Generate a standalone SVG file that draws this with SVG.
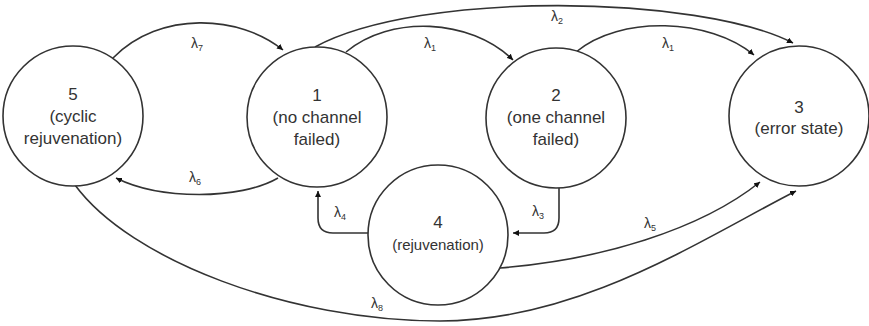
<svg xmlns="http://www.w3.org/2000/svg" width="869" height="326" viewBox="0 0 869 326">
<style>
.node{fill:#fff;stroke:#333;stroke-width:1.6}
.t{font-family:"Liberation Sans",Arial,sans-serif;font-size:17px;fill:#333;text-anchor:middle}
.ts{font-family:"Liberation Sans",Arial,sans-serif;font-size:15px;fill:#333;text-anchor:middle}
.e{fill:none;stroke:#333;stroke-width:1.6;marker-end:url(#ah)}
.l{font-family:"Liberation Sans",Arial,sans-serif;font-size:14px;fill:#333;text-anchor:middle}
.sub{font-size:9px}
</style>
<defs>
<marker id="ah" markerUnits="userSpaceOnUse" markerWidth="7" markerHeight="6" refX="6" refY="3" orient="auto">
<path d="M0,0 L6,3 L0,6 z" fill="#111"/>
</marker>
</defs>
<g id="connectors">
<path class="e" d="M113,58 C160,10 240,15 283,50"/>
<path class="e" d="M278,178 C240,200 160,200 116,178"/>
<path class="e" d="M346,52 C390,15 470,18 513,60"/>
<path class="e" d="M315,47 C420,-10 700,-5 793,43"/>
<path class="e" d="M576,52 C620,15 710,18 754,55"/>
<path class="e" d="M559,188 L559,218 Q559,233 544,233 L513,233"/>
<path class="e" d="M368,233 L333,233 Q318,233 318,218 L318,191"/>
<path class="e" d="M500,268 C600,260 700,230 760,182"/>
<path class="e" d="M75,185 C130,260 290,321 440,321 C580,321 700,240 796,191"/>
<text class="l" x="197" y="48">λ<tspan class="sub" dy="3">7</tspan></text>
<text class="l" x="195" y="182">λ<tspan class="sub" dy="3">6</tspan></text>
<text class="l" x="430" y="48">λ<tspan class="sub" dy="3">1</tspan></text>
<text class="l" x="557" y="21">λ<tspan class="sub" dy="3">2</tspan></text>
<text class="l" x="668" y="48">λ<tspan class="sub" dy="3">1</tspan></text>
<text class="l" x="538" y="216">λ<tspan class="sub" dy="3">3</tspan></text>
<text class="l" x="340" y="217">λ<tspan class="sub" dy="3">4</tspan></text>
<text class="l" x="650" y="228">λ<tspan class="sub" dy="3">5</tspan></text>
<text class="l" x="377" y="308">λ<tspan class="sub" dy="3">8</tspan></text>
</g>
<g id="node5">
<circle class="node" cx="73" cy="116" r="70"/>
<text class="t" x="73" y="100">5</text>
<text class="t" x="73" y="122">(cyclic</text>
<text class="t" x="73" y="144">rejuvenation)</text>
</g>
<g id="node1">
<circle class="node" cx="317" cy="117" r="70"/>
<text class="t" x="317" y="101">1</text>
<text class="t" x="317" y="123">(no channel</text>
<text class="t" x="317" y="145">failed)</text>
</g>
<g id="node2">
<circle class="node" cx="556" cy="118" r="70"/>
<text class="t" x="556" y="101">2</text>
<text class="t" x="556" y="123">(one channel</text>
<text class="t" x="556" y="145">failed)</text>
</g>
<g id="node3">
<circle class="node" cx="799" cy="116" r="70"/>
<text class="t" x="799" y="113">3</text>
<text class="t" x="799" y="134">(error state)</text>
</g>
<g id="node4">
<circle class="node" cx="438" cy="235" r="70"/>
<text class="t" x="438" y="228">4</text>
<text class="ts" x="438" y="250">(rejuvenation)</text>
</g>
</svg>
